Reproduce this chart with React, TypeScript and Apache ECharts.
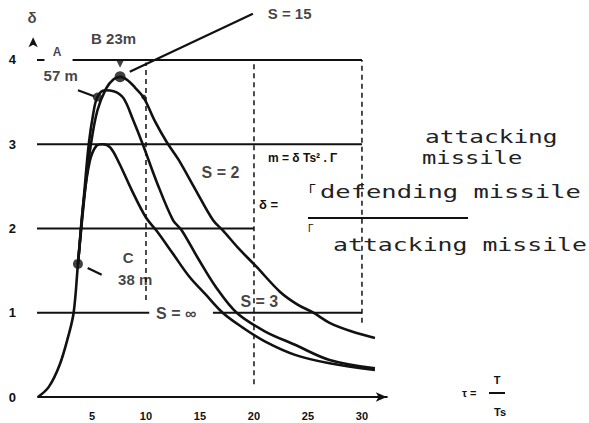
import React, { useEffect, useRef } from "react";
import * as echarts from "echarts";

// ---- data ----
const xTickValues = [5, 10, 15, 20, 25, 30];
const yTickValues = [0, 1, 2, 3, 4];

// S = ∞ (lowest peak)
const curveSInf: number[][] = [
  [0, 0], [1, 0.12], [2, 0.38], [2.8, 0.72], [3.3, 1.0], [3.7, 1.58], [4.2, 2.3],
  [4.8, 2.8], [5.4, 2.98], [6.0, 3.0], [6.7, 2.96], [7.5, 2.78], [8.7, 2.45],
  [10, 2.13], [11, 1.97], [12.5, 1.7], [14, 1.43], [15.5, 1.22], [17.1, 1.0],
  [19, 0.82], [21, 0.66], [23.8, 0.5], [27, 0.4], [31.2, 0.32],
];
// S = 3
const curveS3: number[][] = [
  [3.7, 1.58], [4.3, 2.45], [4.7, 3.0], [5.1, 3.35], [5.5, 3.56], [6.2, 3.64],
  [7.0, 3.63], [7.9, 3.55], [8.8, 3.29], [9.7, 3.0], [11, 2.55], [12.5, 2.1],
  [13.3, 1.98], [14.8, 1.65], [16.5, 1.3], [18.4, 1.0], [21, 0.78], [23.8, 0.62],
  [27, 0.44], [31.2, 0.34],
];
// S = 2
const curveS2: number[][] = [
  [3.7, 1.58], [4.4, 2.5], [4.9, 3.0], [5.5, 3.4], [6.3, 3.66], [7.0, 3.77],
  [7.6, 3.8], [8.3, 3.76], [9.0, 3.67], [9.8, 3.55], [10.8, 3.28], [11.9, 3.03],
  [13, 2.82], [14.5, 2.48], [16.2, 2.1], [17.1, 1.98], [18.6, 1.76], [20.2, 1.55],
  [22.4, 1.25], [24, 1.1], [25.5, 1.0], [27, 0.88], [29, 0.78], [31.2, 0.7],
];
// S = 15 leader
const leaderS15: number[][] = [[8.5, 3.86], [19.9, 4.55]];

// reference lines
const horizontalRefs = [
  { y: 4, from: 3.2, to: 30 },
  { y: 4, from: -0.45, to: 0.6 },
  { y: 3, from: -0.45, to: 30 },
  { y: 2, from: -0.45, to: 20 },
  { y: 1, from: -0.45, to: 10.3 },
  { y: 1, from: 16.2, to: 30 },
];
const verticalRefs = [
  { x: 10, from: 1.15, to: 3.97 },
  { x: 20, from: 0.15, to: 3.97 },
  { x: 30, from: 0.88, to: 4 },
];
const yAxisRef = { x: -0.45, from: 0, solidFrom: 3.5, to: 4.27 };

const keyPoints: number[][] = [[3.7, 1.58], [5.5, 3.56], [7.6, 3.8], [9.8, 3.56]];
const keyPointSizes = [10, 9, 11, 5];
const peakMark: number[] = [7.6, 3.95];
const pointerLines: number[][][] = [
  [[3.7, 3.64], [5.2, 3.57]],
  [[4.6, 1.53], [5.9, 1.45]],
];

const labels = [
  { text: "δ", at: [-0.55, 4.5], size: 15 },
  { text: "A", at: [1.76, 4.1], size: 12 },
  { text: "57 m", at: [2.1, 3.82], size: 15 },
  { text: "B 23m", at: [7.0, 4.26], size: 15 },
  { text: "S = 15", at: [23.3, 4.55], size: 15 },
  { text: "S = 2", at: [16.9, 2.66], size: 16 },
  { text: "S = 3", at: [20.5, 1.13], size: 16 },
  { text: "S = ∞", at: [12.8, 0.99], size: 16 },
  { text: "C", at: [8.35, 1.65], size: 15 },
  { text: "38 m", at: [9.0, 1.39], size: 15 },
];

const INK = "#111";

export default function App() {
  const ref = useRef<HTMLDivElement>(null);

  useEffect(() => {
    if (!ref.current) return;
    const chart = echarts.init(ref.current, undefined, { renderer: "svg" });

    const series: any[] = [];
    const curve = (data: number[][]) => ({
      type: "line",
      data,
      smooth: 0.35,
      showSymbol: false,
      symbol: "none",
      clip: false,
      lineStyle: { color: INK, width: 2.6 },
      z: 5,
    });
    series.push(curve(curveSInf), curve(curveS3), curve(curveS2));
    series.push({
      type: "line",
      data: leaderS15,
      symbol: "none",
      clip: false,
      lineStyle: { color: INK, width: 2.2 },
    });
    horizontalRefs.forEach((h) =>
      series.push({
        type: "line",
        data: [[h.from, h.y], [h.to, h.y]],
        symbol: "none",
        clip: false,
        lineStyle: { color: INK, width: 2 },
      })
    );
    verticalRefs.forEach((v) =>
      series.push({
        type: "line",
        data: [[v.x, v.from], [v.x, v.to]],
        symbol: "none",
        clip: false,
        lineStyle: { color: INK, width: 1.5, type: [5, 4] },
      })
    );
    series.push({
      type: "line",
      data: [[yAxisRef.x, yAxisRef.from], [yAxisRef.x, yAxisRef.solidFrom]],
      symbol: "none",
      clip: false,
      lineStyle: { color: INK, width: 1.6, type: [5, 4] },
    });
    series.push({
      type: "line",
      data: [
        { value: [yAxisRef.x, yAxisRef.solidFrom], symbol: "none" },
        { value: [yAxisRef.x, yAxisRef.to], symbol: "arrow", symbolSize: [7, 10] },
      ],
      showSymbol: true,
      clip: false,
      itemStyle: { color: INK },
      lineStyle: { color: INK, width: 2 },
    });
    pointerLines.forEach((p) =>
      series.push({
        type: "line",
        data: p,
        symbol: "none",
        clip: false,
        lineStyle: { color: INK, width: 2.2 },
      })
    );
    series.push({
      type: "scatter",
      data: keyPoints.map((p, i) => ({ value: p, symbolSize: keyPointSizes[i] })),
      symbol: "circle",
      clip: false,
      itemStyle: { color: INK },
      z: 6,
    });
    series.push({
      type: "scatter",
      data: [peakMark],
      symbol: "triangle",
      symbolRotate: 180,
      symbolSize: 7,
      clip: false,
      itemStyle: { color: INK },
    });
    series.push({
      type: "scatter",
      data: labels.map((l) => ({
        value: l.at,
        name: l.text,
        label: { fontSize: l.size },
      })),
      symbolSize: 0,
      clip: false,
      silent: true,
      label: {
        show: true,
        position: "inside",
        formatter: "{b}",
        color: INK,
        fontWeight: "bold",
        fontFamily: "Liberation Sans, Arial, sans-serif",
      },
      z: 7,
    });

    const mono = "DejaVu Sans Mono, monospace";
    const sans = "Liberation Sans, Arial, sans-serif";
    const graphic: any[] = [
      { type: "text", x: 425, y: 137, scaleX: 1.44, style: { text: "attacking", font: `17px ${mono}`, fill: "#222", verticalAlign: "middle" } },
      { type: "text", x: 268, y: 158, style: { text: "m = δ Ts² . Γ", font: `bold 12px ${sans}`, fill: INK, verticalAlign: "middle" } },
      { type: "text", x: 422, y: 158, scaleX: 1.4, style: { text: "missile", font: `17px ${mono}`, fill: "#222", verticalAlign: "middle" } },
      { type: "text", x: 259, y: 204, style: { text: "δ =", font: `bold 13px ${sans}`, fill: INK, verticalAlign: "middle" } },
      { type: "text", x: 309, y: 189, style: { text: "Γ", font: `12px ${sans}`, fill: INK, verticalAlign: "middle" } },
      { type: "text", x: 320, y: 192, scaleX: 1.5, style: { text: "defending missile", font: `17px ${mono}`, fill: "#222", verticalAlign: "middle" } },
      { type: "line", shape: { x1: 308, y1: 218, x2: 468, y2: 218 }, style: { stroke: INK, lineWidth: 2 } },
      { type: "text", x: 308, y: 228, style: { text: "Γ", font: `10px ${sans}`, fill: INK, verticalAlign: "middle" } },
      { type: "text", x: 333, y: 245, scaleX: 1.46, style: { text: "attacking missile", font: `17px ${mono}`, fill: "#222", verticalAlign: "middle" } },
      { type: "text", x: 462, y: 393, style: { text: "τ =", font: `bold 11px ${sans}`, fill: INK, verticalAlign: "middle" } },
      { type: "text", x: 497, y: 380, style: { text: "T", font: `bold 11px ${sans}`, fill: INK, align: "center", verticalAlign: "middle" } },
      { type: "line", shape: { x1: 489, y1: 393, x2: 505, y2: 393 }, style: { stroke: INK, lineWidth: 2 } },
      { type: "text", x: 500, y: 412, style: { text: "Ts", font: `bold 11px ${sans}`, fill: INK, align: "center", verticalAlign: "middle" } },
    ];

    chart.setOption({
      animation: false,
      backgroundColor: "#fff",
      grid: { left: 38, right: 202.2, top: 1, bottom: 26 },
      xAxis: {
        type: "value",
        min: 0,
        max: 32.3,
        interval: 5,
        axisLine: {
          show: true,
          lineStyle: { color: INK, width: 2 },
          symbol: ["none", "arrow"],
          symbolSize: [7, 11],
        },
        axisTick: { show: false },
        splitLine: { show: false },
        axisLabel: {
          margin: 13,
          color: INK,
          fontSize: 11,
          fontWeight: "bold",
          fontFamily: "Liberation Sans, Arial, sans-serif",
          formatter: (v: number) => (xTickValues.includes(v) ? String(v) : ""),
        },
      },
      yAxis: {
        type: "value",
        min: 0,
        max: 4.7,
        interval: 1,
        axisLine: { show: false },
        axisTick: { show: false },
        splitLine: { show: false },
        axisLabel: {
          margin: 22,
          color: INK,
          fontSize: 13,
          fontWeight: "bold",
          fontFamily: "Liberation Sans, Arial, sans-serif",
          formatter: (v: number) => (yTickValues.includes(v) ? String(v) : ""),
        },
      },
      series,
      graphic,
    });

    return () => chart.dispose();
  }, []);

  return (
    <div
      ref={ref}
      style={{ position: "absolute", left: 0, top: 0, width: 589, height: 423, background: "#fff" }}
    />
  );
}
